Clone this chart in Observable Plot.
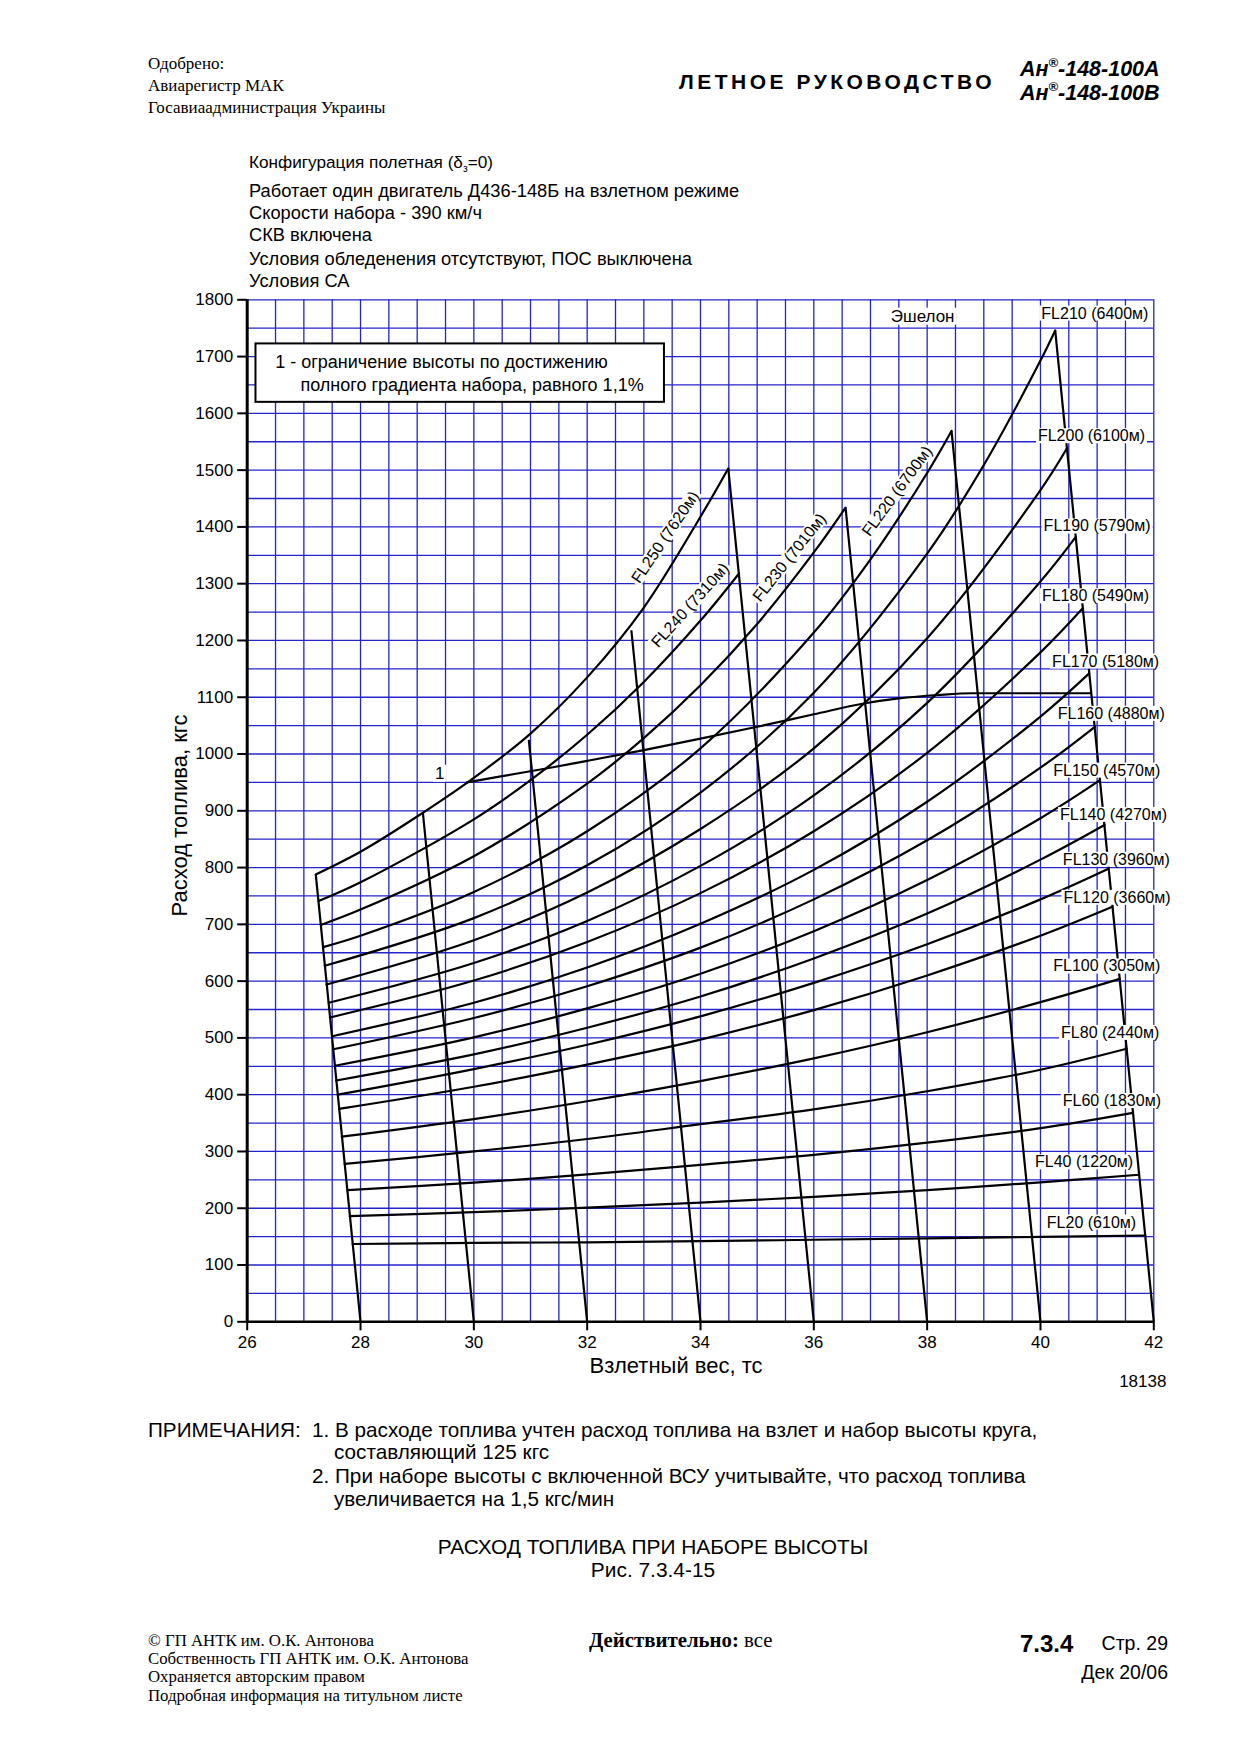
<!DOCTYPE html>
<html><head><meta charset="utf-8">
<script src="https://cdn.jsdelivr.net/npm/d3@7"></script>
<script src="https://cdn.jsdelivr.net/npm/@observablehq/plot@0.6"></script>
<style>
body{margin:0;background:#fff;}
#page{position:relative;width:1240px;height:1755px;overflow:hidden;background:#fff;font-family:"Liberation Sans",Arial,sans-serif;color:#000;}
.t{position:absolute;white-space:nowrap;line-height:1;}
.serif{font-family:"Liberation Serif","Times New Roman",serif;}
#chart{position:absolute;left:0;top:280px;}
sup.r{font-size:0.6em;position:relative;top:-0.15em;vertical-align:top;}
sub.s{font-size:0.6em;vertical-align:-0.35em;line-height:0;}
</style></head><body><div id="page">
<div id="chart"></div>
<div class="t serif" style="left:148px;top:55.4px;font-size:17px">Одобрено:</div>
<div class="t serif" style="left:148px;top:77.4px;font-size:17px">Авиарегистр МАК</div>
<div class="t serif" style="left:148px;top:99.4px;font-size:17px">Госавиаадминистрация Украины</div>
<div class="t" style="left:679px;top:70.5px;font-size:21px;font-weight:bold;letter-spacing:3.5px">ЛЕТНОЕ РУКОВОДСТВО</div>
<div class="t" style="left:1020px;top:59px;font-size:21.5px;font-weight:bold;font-style:italic">Ан<sup class="r">®</sup>-148-100А</div>
<div class="t" style="left:1020px;top:82.5px;font-size:21.5px;font-weight:bold;font-style:italic">Ан<sup class="r">®</sup>-148-100В</div>

<div class="t" style="left:249px;top:154px;font-size:17.2px">Конфигурация полетная (δ<sub class="s">з</sub>=0)</div>
<div class="t" style="left:249px;top:181.6px;font-size:18.3px">Работает один двигатель Д436-148Б на взлетном режиме</div>
<div class="t" style="left:249px;top:204px;font-size:18.3px">Скорости набора - 390 км/ч</div>
<div class="t" style="left:249px;top:226.4px;font-size:18.3px">СКВ включена</div>
<div class="t" style="left:249px;top:250px;font-size:18.3px">Условия обледенения отсутствуют, ПОС выключена</div>
<div class="t" style="left:249px;top:272.4px;font-size:18.3px">Условия СА</div>

<div class="t" style="left:148px;top:1419.5px;font-size:20.7px">ПРИМЕЧАНИЯ:</div>
<div class="t" style="left:312px;top:1419.5px;font-size:20.7px">1. В расходе топлива учтен расход топлива на взлет и набор высоты круга,</div>
<div class="t" style="left:334px;top:1442px;font-size:20.7px">составляющий 125 кгс</div>
<div class="t" style="left:312px;top:1465.5px;font-size:20.7px">2. При наборе высоты с включенной ВСУ учитывайте, что расход топлива</div>
<div class="t" style="left:334px;top:1489px;font-size:20.7px">увеличивается на 1,5 кгс/мин</div>

<div class="t" style="left:353px;width:600px;text-align:center;top:1536.5px;font-size:20.9px">РАСХОД ТОПЛИВА ПРИ НАБОРЕ ВЫСОТЫ</div>
<div class="t" style="left:353px;width:600px;text-align:center;top:1560px;font-size:20.9px">Рис. 7.3.4-15</div>

<div class="t serif" style="left:148px;top:1632.8px;font-size:16.8px">© ГП АНТК им. О.К. Антонова</div>
<div class="t serif" style="left:148px;top:1650.7px;font-size:16.8px">Собственность ГП АНТК им. О.К. Антонова</div>
<div class="t serif" style="left:148px;top:1668.7px;font-size:16.8px">Охраняется авторским правом</div>
<div class="t serif" style="left:148px;top:1687.7px;font-size:16.8px">Подробная информация на титульном листе</div>
<div class="t serif" style="left:589px;top:1630px;font-size:20.8px"><b>Действительно:</b> все</div>
<div class="t" style="left:1020px;top:1631.8px;font-size:24px;font-weight:bold">7.3.4</div>
<div class="t" style="right:72px;top:1633.8px;font-size:19.5px">Стр. 29</div>
<div class="t" style="right:72px;top:1662.8px;font-size:19.5px">Дек 20/06</div>
</div>
<script>
// ---- axis ticks ----
const xTicks = [26, 28, 30, 32, 34, 36, 38, 40, 42];
const yTicks = [0, 100, 200, 300, 400, 500, 600, 700, 800, 900, 1000, 1100, 1200, 1300, 1400, 1500, 1600, 1700, 1800];

// ---- flight levels ----
const flNames = ["FL20 (610м)", "FL40 (1220м)", "FL60 (1830м)", "FL80 (2440м)", "FL100 (3050м)",
  "FL120 (3660м)", "FL130 (3960м)", "FL140 (4270м)", "FL150 (4570м)", "FL160 (4880м)",
  "FL170 (5180м)", "FL180 (5490м)", "FL190 (5790м)", "FL200 (6100м)", "FL210 (6400м)",
  "FL220 (6700м)", "FL230 (7010м)", "FL240 (7310м)", "FL250 (7620м)"];

// fuel (kg) vs take-off weight (t) for each flight level
const FL20  = [[27.86,137],[30,139],[32,140],[34,142],[36,144.5],[38,147],[40,149.5],[41.85,152]];
const FL40  = [[27.81,186],[30,193],[32,201],[34,210],[36,220],[38,232],[40,245.5],[41.74,259]];
const FL60  = [[27.77,232],[30,245],[32,259.5],[34,276.5],[36,294],[38,315.5],[40,341],[41.63,368]];
const FL80  = [[27.72,278],[30,300],[32,322],[34,348],[36,374],[38,406],[40,444],[41.52,481]];
const FL100 = [[27.67,326],[30,357],[32,388.5],[34,424],[36,464],[38,510],[40,563],[41.40,604]];
const FL120 = [[27.62,375],[30,414],[32,453],[34,497],[36,549],[38,610],[40,680],[41.27,731]];
const FL130 = [[27.60,400],[30,445],[32,488],[34,538],[36,597],[38,665],[40,744],[41.20,798]];
const FL140 = [[27.57,425],[30,471],[32,518],[34,573],[36,640],[38,719],[40,814],[41.13,875]];
const FL150 = [[27.55,451],[30,501],[32,552],[34,613],[36,688],[38,778],[40,887],[41.05,954]];
const FL160 = [[27.52,480],[30,535],[32,591],[34,659],[36,744],[38,848],[40,976],[40.96,1048]];
const FL170 = [[27.50,503],[30,562],[32,624],[34,701],[36,796],[38,916],[40,1066],[40.86,1142]];
const FL180 = [[27.46,536],[30,601],[32,669],[34,755],[36,864],[38,1002],[40,1179],[40.75,1257]];
const FL190 = [[27.44,562],[30,632],[32,706],[34,803],[36,927],[38,1090],[40,1304],[40.62,1382]];
const FL200 = [[27.40,594],[30,672],[32,756],[34,868],[36,1010],[38,1204],[40,1465],[40.47,1539]];
const FL210 = [[27.37,627],[30,711],[32,804],[34,932],[36,1108],[38,1353],[39,1509],[40,1693],[40.26,1746]];
const FL220 = [[27.34,660],[28,680],[30,757],[32,864],[34,1010],[36,1214],[37,1343],[38,1495],[38.43,1569]];
const FL230 = [[27.30,699],[28,726],[30,820],[32,948],[33,1028],[34,1121],[35,1229],[36,1355],[36.56,1434]];
const FL240 = [[27.26,741],[28,774],[30,885],[31,954],[32,1034],[33,1127],[34,1235],[34.68,1318]];
const FL250 = [[27.21,788],[28,828],[29,890],[30,958],[31,1036],[32,1135],[33,1258],[34,1418],[34.49,1503]];
const curveSets = [FL20, FL40, FL60, FL80, FL100, FL120, FL130, FL140, FL150, FL160,
  FL170, FL180, FL190, FL200, FL210, FL220, FL230, FL240, FL250];

// take-off weight lines: top point -> weight at zero fuel
const weightBase = [28, 30, 32, 34, 36, 38, 40, 42];
const weightTop = [[27.21,788],[29.1,897],[30.97,1025],[32.78,1218],[34.49,1503],[36.56,1434],[38.43,1569],[40.26,1746]];

// line 1: altitude limit by 1.1% gradient
const limitLine = [[29.88,950],[30.5,961],[31.3,975],[32,988],[33,1007],[34,1027],[35,1048],[36,1070],[36.88,1089],[37.5,1098],[38.2,1104],[38.8,1107],[40.88,1107]];

// label anchor points (weight, fuel) and rotation
const labelX = [40.9, 40.77, 41.26, 41.23, 41.17, 41.35, 41.34, 41.29, 41.17, 41.25, 41.15, 40.97, 41.0, 40.9, 40.96, 37.47, 35.57, 33.82, 33.38];
const labelY = [175, 281, 389, 509, 626, 747, 814, 893, 971, 1071, 1163, 1278, 1401, 1560, 1776, 1463, 1346, 1262, 1382];
const labelRot = [0,0,0,0,0,0,0,0,0,0,0,0,0,0,0,-53.8,-51.5,-48,-55.8];

const legendLines = ["1 - ограничение высоты по достижению", "полного градиента набора, равного 1,1%"];

// ---- build tables ----
const curveRows = curveSets.flatMap((pts, i) => pts.map(([x, y]) => ({name: flNames[i], x, y})));
const weightRows = weightBase.map((b, i) => ({x1: weightTop[i][0], y1: weightTop[i][1], x2: b, y2: 0}));
const limitRows = limitLine.map(([x, y]) => ({x, y}));
const labelRows = flNames.map((t, i) => ({text: t, x: labelX[i], y: labelY[i], r: labelRot[i]}));
const extraLabels = [{text: "Эшелон", x: 37.92, y: 1771}, {text: "1", x: 29.4, y: 966}];
const legendBox = [{x1: 26.155, x2: 33.364, y1: 1619.4, y2: 1722.3}];
const legendText = [{text: legendLines[0], x: 26.494, y: 1690}, {text: legendLines[1], x: 26.94, y: 1650}];
const xGrid = d3.range(26, 42.001, 0.5);
const yGrid = d3.range(0, 1800.001, 50);

const blue = "#2424cc";
const svg = Plot.plot({
  width: 1240, height: 1130,
  marginLeft: 246.7, marginRight: 86.7, marginTop: 19.3, marginBottom: 88.7,
  x: {domain: [26, 42], label: null},
  y: {domain: [0, 1800], label: null},
  style: {fontFamily: '"Liberation Sans", Arial, sans-serif', fontSize: "17px", background: "transparent", color: "black", overflow: "visible"},
  marks: [
    Plot.ruleX(xGrid, {stroke: blue, strokeWidth: 1.3}),
    Plot.ruleY(yGrid, {stroke: blue, strokeWidth: 1.3}),
    Plot.axisX(xTicks, {tickSize: 9, tickPadding: 5, fontSize: 17, strokeWidth: 2, tickFormat: d => String(d), label: null}),
    Plot.axisY(yTicks, {tickSize: 9.5, tickPadding: 4.5, fontSize: 17, strokeWidth: 2, tickFormat: d => String(d), label: null}),
    Plot.ruleX([26], {stroke: "black", strokeWidth: 3}),
    Plot.ruleY([0], {stroke: "black", strokeWidth: 2.6}),
    Plot.line(curveRows, {x: "x", y: "y", z: "name", curve: "catmull-rom", stroke: "black", strokeWidth: 2.2}),
    Plot.link(weightRows, {x1: "x1", y1: "y1", x2: "x2", y2: "y2", stroke: "black", strokeWidth: 2.2}),
    Plot.line(limitRows, {x: "x", y: "y", curve: "monotone-x", stroke: "black", strokeWidth: 2.2}),
    Plot.rect(legendBox, {x1: "x1", x2: "x2", y1: "y1", y2: "y2", fill: "white", stroke: "black", strokeWidth: 2}),
    Plot.text(legendText, {x: "x", y: "y", text: "text", textAnchor: "start", fontSize: 18}),
    Plot.text(labelRows, {x: "x", y: "y", text: "text", rotate: "r", fontSize: 16}),
    Plot.text(extraLabels, {x: "x", y: "y", text: "text", fontSize: 17}),
    Plot.text(["Расход топлива, кгс"], {frameAnchor: "left", textAnchor: "middle", dx: -67.3, dy: 4.7, rotate: -90, fontSize: 22}),
    Plot.text(["Взлетный вес, тс"], {frameAnchor: "bottom", textAnchor: "middle", dx: -24.5, dy: 51, fontSize: 22}),
    Plot.text(["18138"], {frameAnchor: "bottom-right", textAnchor: "middle", dx: -11, dy: 65, fontSize: 17})
  ]
});
document.getElementById("chart").appendChild(svg);

// white boxes behind curve labels
const bgSet = new Set([...flNames, "Эшелон", "1"]);
svg.querySelectorAll("text").forEach(t => {
  if (!bgSet.has(t.textContent)) return;
  const b = t.getBBox();
  const r = document.createElementNS("http://www.w3.org/2000/svg", "rect");
  r.setAttribute("x", b.x - 2);
  r.setAttribute("y", b.y + 1);
  r.setAttribute("width", b.width + 4);
  r.setAttribute("height", Math.max(0, b.height - 2));
  r.setAttribute("fill", "white");
  const tr = t.getAttribute("transform");
  if (tr) r.setAttribute("transform", tr);
  t.parentNode.insertBefore(r, t);
});
</script>
</body></html>
